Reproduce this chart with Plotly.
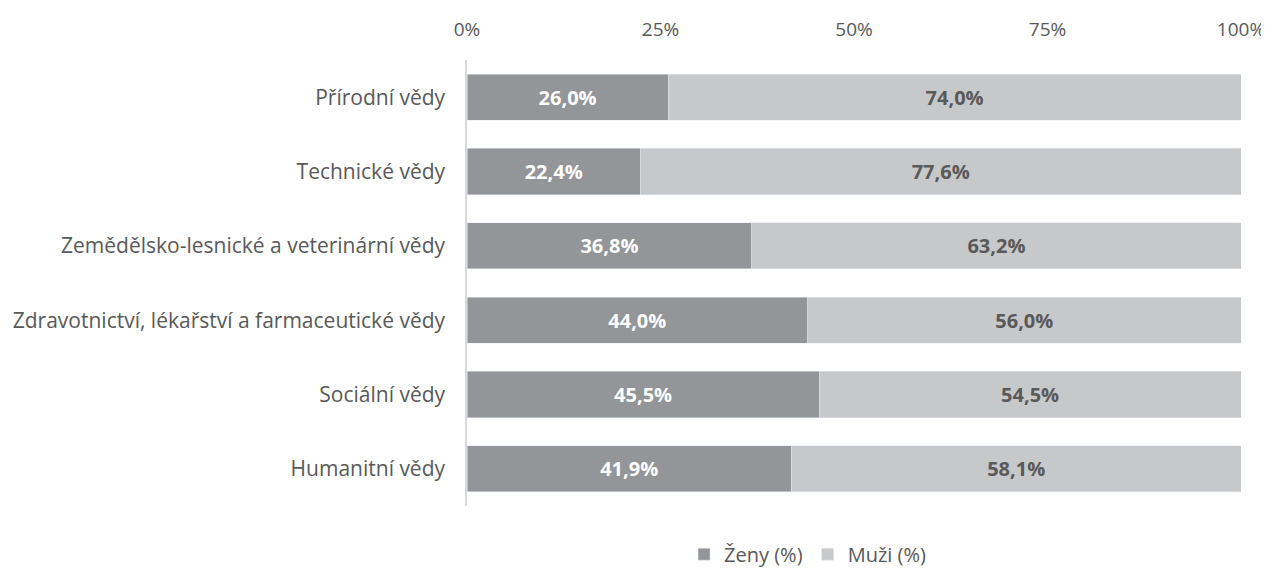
import plotly.graph_objects as go

# data
obory = [
    "Přírodní vědy",
    "Technické vědy",
    "Zemědělsko-lesnické a veterinární vědy",
    "Zdravotnictví, lékařství a farmaceutické vědy",
    "Sociální vědy",
    "Humanitní vědy",
]
zeny = [26.0, 22.4, 36.8, 44.0, 45.5, 41.9]
muzi = [74.0, 77.6, 63.2, 56.0, 54.5, 58.1]


def fmt(v):
    # czech decimal comma
    return f"{v:.1f}".replace(".", ",") + "%"


font_name = "Open Sans, sans-serif"

fig = go.Figure()
fig.add_trace(go.Bar(
    y=obory, x=zeny, name="Ženy (%)", orientation="h",
    marker=dict(color="#939598"),
    text=[fmt(v) for v in zeny], textposition="inside",
    insidetextanchor="middle",
    textfont=dict(color="white", size=20, family=font_name, weight="bold"),
    width=0.62,
))
fig.add_trace(go.Bar(
    y=obory, x=muzi, name="Muži (%)", orientation="h",
    marker=dict(color="#c7c8ca"),
    text=[fmt(v) for v in muzi], textposition="inside",
    insidetextanchor="middle",
    textfont=dict(color="#595959", size=20, family=font_name, weight="bold"),
    width=0.62,
))

# page body adds 8px offset; figure is taller than the window so the
# legend has room below the plot without squeezing it
fig.update_layout(
    barmode="stack",
    width=1261, height=600,
    margin=dict(l=459, r=28, t=52, b=102),
    plot_bgcolor="white", paper_bgcolor="white",
    font=dict(family=font_name, size=21, color="#595959"),
    uniformtext=dict(mode="show", minsize=10),
    xaxis=dict(
        side="top", range=[0, 100],
        tickvals=[0, 25, 50, 75, 100],
        ticktext=["0%", "25%", "50%", "75%", "100%"],
        showgrid=False, zeroline=False, showline=False,
        tickfont=dict(size=19, color="#595959"),
        ticklabelstandoff=19,
        automargin=False,
        fixedrange=True,
    ),
    yaxis=dict(
        autorange="reversed",
        showline=True, linecolor="#d9d9d9", linewidth=1.5,
        showgrid=False, ticks="", ticklabelstandoff=16,
        tickfont=dict(size=21, color="#595959"),
        automargin=False,
    ),
    legend=dict(
        orientation="h", x=0.44, xanchor="center",
        y=-0.108, yanchor="middle", traceorder="normal",
        font=dict(size=20, color="#595959"),
    ),
    bargap=0.38,
)

fig.write_html("out.html")
